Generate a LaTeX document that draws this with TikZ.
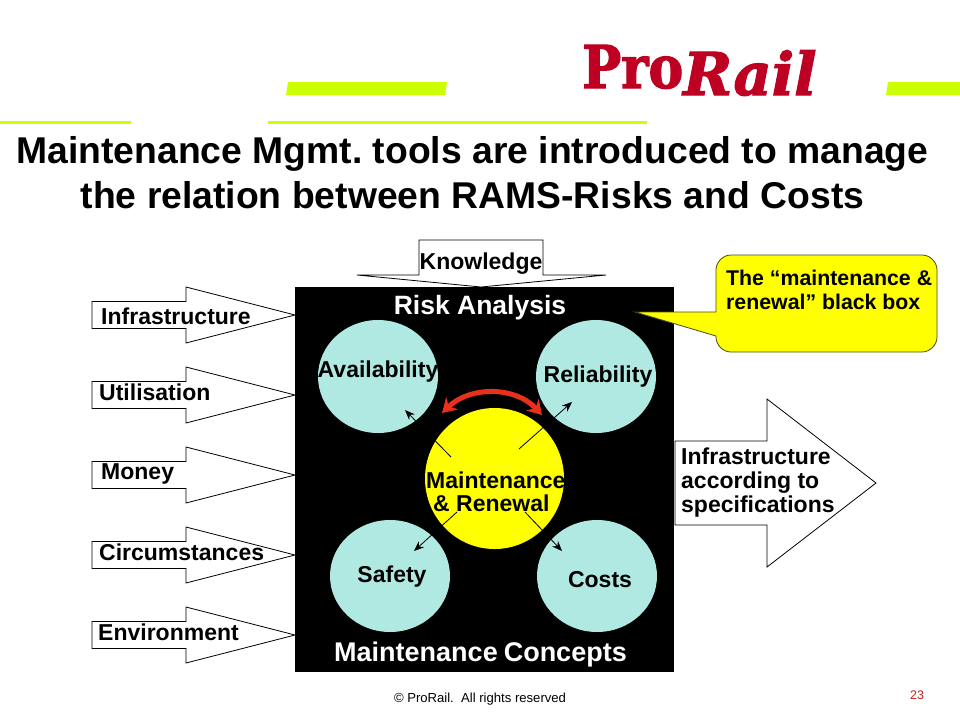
\documentclass[tikz,border=0pt]{standalone}
\usepackage{fontspec}
\setmainfont{Liberation Sans}
\newfontfamily\logofontA[FakeStretch=0.88,FakeBold=2]{DejaVu Serif}
\newfontfamily\logofontB[FakeBold=2]{DejaVu Serif}
\usetikzlibrary{arrows.meta}
\definecolor{cyanc}{HTML}{AFE9E2}
\definecolor{limeb}{HTML}{CCFF00}
\definecolor{logored}{HTML}{BE0022}
\definecolor{arcred}{HTML}{E8301C}
\definecolor{ballyellow}{HTML}{FFFF00}
\definecolor{calloutline}{HTML}{4A4A10}
\definecolor{pagered}{HTML}{C8201C}
\tikzset{x=1pt,y=-1pt,
 lbl/.style={font=\bfseries\fontsize{23}{27}\selectfont,anchor=west,inner sep=0pt},
 inarrow/.style={draw=black,fill=white,line width=0.8pt,line join=miter},
 thin arrow/.style={draw=black,line width=0.8pt,-{Stealth[length=10pt,width=8pt]}}}
\newcommand{\inarrowshape}[1]{%
 \draw[inarrow] (92,#1-13.5) -- (186,#1-13.5) -- (186,#1-28) -- (295,#1) -- (186,#1+28) -- (186,#1+13.5) -- (92,#1+13.5) -- cycle;}
\frenchspacing
\begin{document}
\begin{tikzpicture}
\useasboundingbox (0,0) rectangle (960,720);
% lime bars
\fill[limeb] (288,82) -- (447,82) -- (445,95) -- (286,95) -- cycle;
\fill[limeb] (888,82) -- (960,82) -- (960,95) -- (886,95) -- cycle;
\fill[limeb] (268,120.5) rectangle (647,124);
\fill[limeb] (0,120.5) rectangle (131,124);
% logo
\node[inner sep=0pt,anchor=base west,text=logored] (logoa) at (582,88)
 {\logofontA\bfseries\fontsize{59}{60}\selectfont Pro};
\node[inner sep=0pt,anchor=base west,text=logored] (logob) at (683,95)
 {\logofontB\bfseries\itshape\fontsize{59}{60}\selectfont Rail};
% title
\node[align=center,inner sep=0pt,font=\bfseries\fontsize{37.3}{45}\selectfont] (title) at (472.5,173)
 {Maintenance Mgmt. tools are introduced to manage\\the relation between RAMS-Risks and Costs};
% black box
\fill[black] (295,287) rectangle (674,672);
% left arrows
\inarrowshape{315}\inarrowshape{395}\inarrowshape{475}\inarrowshape{555}\inarrowshape{635}
\node[lbl] (l1) at (101,316) {Infrastructure};
\node[lbl] (l2) at (99,392) {Utilisation};
\node[lbl] (l3) at (101,474) {Money};
\node[lbl] (l4) at (99,552) {Circumstances};
\node[lbl] (l5) at (98,632) {Environment};
% knowledge
\draw[inarrow] (419,275) -- (419,240) -- (543,240) -- (543,275) -- (606,275) -- (481,287) -- (357,275) -- cycle;
\node[lbl,anchor=center] (know) at (481,264) {Knowledge};
% right arrow
\draw[inarrow] (675,441) -- (767,441) -- (767,399) -- (876,483) -- (767,567) -- (767,525) -- (675,525) -- cycle;
\node[lbl,anchor=north west,align=left,font=\bfseries\fontsize{23}{24}\selectfont] (out) at (681,448)
 {Infrastructure\\according to\\specifications};
% callout
\draw[draw=calloutline,fill=ballyellow,line width=0.8pt]
 (731,255) -- (922,255) .. controls (930,255) and (937,262) .. (937,270)
 -- (937,337) .. controls (937,345) and (930,352) .. (922,352)
 -- (731,352) .. controls (723,352) and (716,345) .. (716,337)
 -- (716,336) -- (635,312) -- (716,312)
 -- (716,270) .. controls (716,262) and (723,255) .. (731,255) -- cycle;
\node[lbl,anchor=north west,align=left,font=\bfseries\fontsize{21.3}{24}\selectfont] (ct) at (726,270)
 {The “maintenance \&\\renewal” black box};
% circles
\fill[cyanc] (378,376.5) ellipse[x radius=60,y radius=56.5];
\fill[cyanc] (596,376.5) ellipse[x radius=60,y radius=56.5];
\fill[cyanc] (390,576) ellipse[x radius=60,y radius=56];
\fill[cyanc] (597,576) ellipse[x radius=60,y radius=56];
\fill[ballyellow] (494.5,478.5) ellipse[x radius=69.5,y radius=70.5];
% connectors
\coordinate (a1) at (451,457); \coordinate (a2) at (405,410);
\coordinate (b1) at (519,449); \coordinate (b2) at (572,402);
\coordinate (c1) at (457,512); \coordinate (c2) at (414,551);
\coordinate (d1) at (525,512); \coordinate (d2) at (562,551);
\draw[thin arrow] (a1) -- (a2);
\draw[thin arrow] (b1) -- (b2);
\draw[thin arrow] (c1) -- (c2);
\draw[thin arrow] (d1) -- (d2);
% red arc
\coordinate (ra) at (442,413); \coordinate (rb) at (542,415);
\draw[arcred,line width=5pt,{Stealth[length=14pt,width=17pt]}-{Stealth[length=14pt,width=17pt]}]
 (ra) .. controls (470,386) and (515,386) .. (rb);
% box labels
\node[font=\bfseries\fontsize{26.5}{30}\selectfont,text=white,inner sep=0pt] (risk) at (480,308) {Risk Analysis};
\node[font=\bfseries\fontsize{27}{30}\selectfont,text=white,inner sep=0pt] (conc) at (480.5,655) {Maintenance\kern6pt Concepts};
\node[lbl,anchor=center] (av) at (378,372) {Availability};
\node[lbl,anchor=center] (re) at (598,377) {Reliability};
\node[lbl,anchor=center] (sa) at (392,577) {Safety};
\node[lbl,anchor=center] (co) at (600,580) {Costs};
\node[lbl,anchor=west] (mr1) at (426,480) {Maintenance};
\node[lbl,anchor=west] (mr2) at (433,503) {\& Renewal};
% footer
\node[inner sep=0pt,font=\fontsize{13.1}{16}\selectfont] (foot) at (480,699.5) {© ProRail.\ \ All rights reserved};
\node[inner sep=0pt,text=pagered,font=\fontsize{12.5}{14}\selectfont] (pg) at (917,695.5) {23};
\end{tikzpicture}
\end{document}
